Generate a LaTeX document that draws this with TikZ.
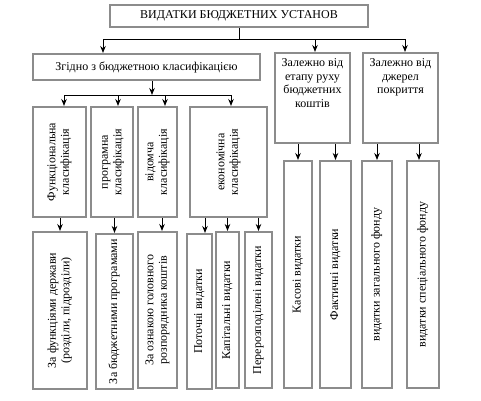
\documentclass[tikz,border=0pt]{standalone}
\usepackage{fontspec}
\setmainfont{Liberation Serif}
\usetikzlibrary{arrows.meta}
\definecolor{boxgray}{RGB}{140,140,140}
\newcommand{\vtext}[1]{\rotatebox{90}{\begin{tabular}{@{}c@{}}#1\end{tabular}}}
\begin{document}
\begin{tikzpicture}[x=1pt,y=-1pt,
  bx/.style={draw=boxgray,line width=2pt,fill=white,inner sep=0pt,
    font=\fontsize{12}{13.5}\selectfont,align=center},
  arr/.style={line width=1pt,-{Stealth[length=7pt,width=5.5pt]}},
  ln/.style={line width=1pt}]
\fill[white] (0,0) rectangle (481,400);
\useasboundingbox (0,0) rectangle (481,400);
% level 0
\node[bx,minimum width=258pt,minimum height=22pt] (top) at (239,16) {ВИДАТКИ БЮДЖЕТНИХ УСТАНОВ};
% level 1
\node[bx,minimum width=227pt,minimum height=26pt] (zg) at (146.5,67) {Згідно з бюджетною класифікацією};
\node[bx,minimum width=75pt,minimum height=90pt] (stage) at (312.5,98)
  {\parbox[c][86pt][t]{72pt}{\centering\vspace*{4pt}Залежно від\\етапу руху\\бюджетних\\коштів}};
\node[bx,minimum width=75pt,minimum height=90pt] (src) at (400.5,98)
  {\parbox[c][86pt][t]{72pt}{\centering\vspace*{4pt}Залежно від\\джерел\\покриття}};
% level 2
\node[bx,minimum width=53pt,minimum height=110pt] (fun) at (59.5,162) {\vtext{Функціональна\\класифікація}};
\node[bx,minimum width=42pt,minimum height=110pt] (prog) at (112,162) {\vtext{програмна\\класифікація}};
\node[bx,minimum width=39pt,minimum height=110pt] (vid) at (157.5,162) {\vtext{відомча\\класифікація}};
\node[bx,minimum width=77pt,minimum height=110pt] (eco) at (228.5,162) {\vtext{економічна\\класифікація}};
% level 3
\node[bx,minimum width=54pt,minimum height=157pt] (zf) at (60,310.5) {\vtext{За функціями держави\\(розділи, підрозділи)}};
\node[bx,minimum width=37pt,minimum height=155pt] (zb) at (114.5,311.5) {\vtext{За бюджетними програмами}};
\node[bx,minimum width=39pt,minimum height=156pt] (zo) at (157.5,310) {\vtext{За ознакою головного\\розпорядника коштів}};
\node[bx,minimum width=25pt,minimum height=155pt] (pot) at (199.5,311.5) {\vtext{Поточні видатки}};
\node[bx,minimum width=23pt,minimum height=156pt] (kap) at (227.5,310) {\vtext{Капітальні видатки}};
\node[bx,minimum width=27pt,minimum height=156pt] (per) at (258.5,310) {\vtext{Перерозподілені видатки}};
\node[bx,minimum width=28pt,minimum height=227pt] (kas) at (298,274.5) {\vtext{Касові видатки}};
\node[bx,minimum width=31pt,minimum height=227pt] (fak) at (335.5,274.5) {\vtext{Фактичні видатки}};
\node[bx,minimum width=30pt,minimum height=227pt] (zag) at (377,274.5) {\vtext{видатки загального фонду}};
\node[bx,minimum width=32pt,minimum height=227pt] (spe) at (423,274.5) {\vtext{видатки спеціального фонду}};
% connectors
\coordinate (b1) at (239,39);
\draw[ln] (top.south) -- (b1);
\draw[arr] (b1) -| (103,0 |- zg.north);
\draw[arr] (b1) -| (315,0 |- stage.north);
\draw[arr] (b1) -| (405,0 |- src.north);
\coordinate (b2) at (152,95);
\draw[arr] (b2 |- zg.south) -- (b2);
\draw[arr] (b2) -| (64,0 |- fun.north);
\draw[arr] (b2) -| (118,0 |- prog.north);
\draw[arr] (b2) -| (165,0 |- vid.north);
\draw[arr] (b2) -| (231,0 |- eco.north);
\draw[arr] (zf.north |- fun.south) -- (zf.north);
\draw[arr] (zb.north |- prog.south) -- (zb.north);
\draw[arr] (162,0 |- vid.south) -- (162,0 |- zo.north);
\draw[arr] (205,0 |- eco.south) -- (205,0 |- pot.north);
\draw[arr] (kap.north |- eco.south) -- (kap.north);
\draw[arr] (per.north |- eco.south) -- (per.north);
\draw[arr] (kas.north |- stage.south) -- (kas.north);
\draw[arr] (fak.north |- stage.south) -- (fak.north);
\draw[arr] (zag.north |- src.south) -- (zag.north);
\draw[arr] (419,0 |- src.south) -- (419,0 |- spe.north);
\end{tikzpicture}
\end{document}
